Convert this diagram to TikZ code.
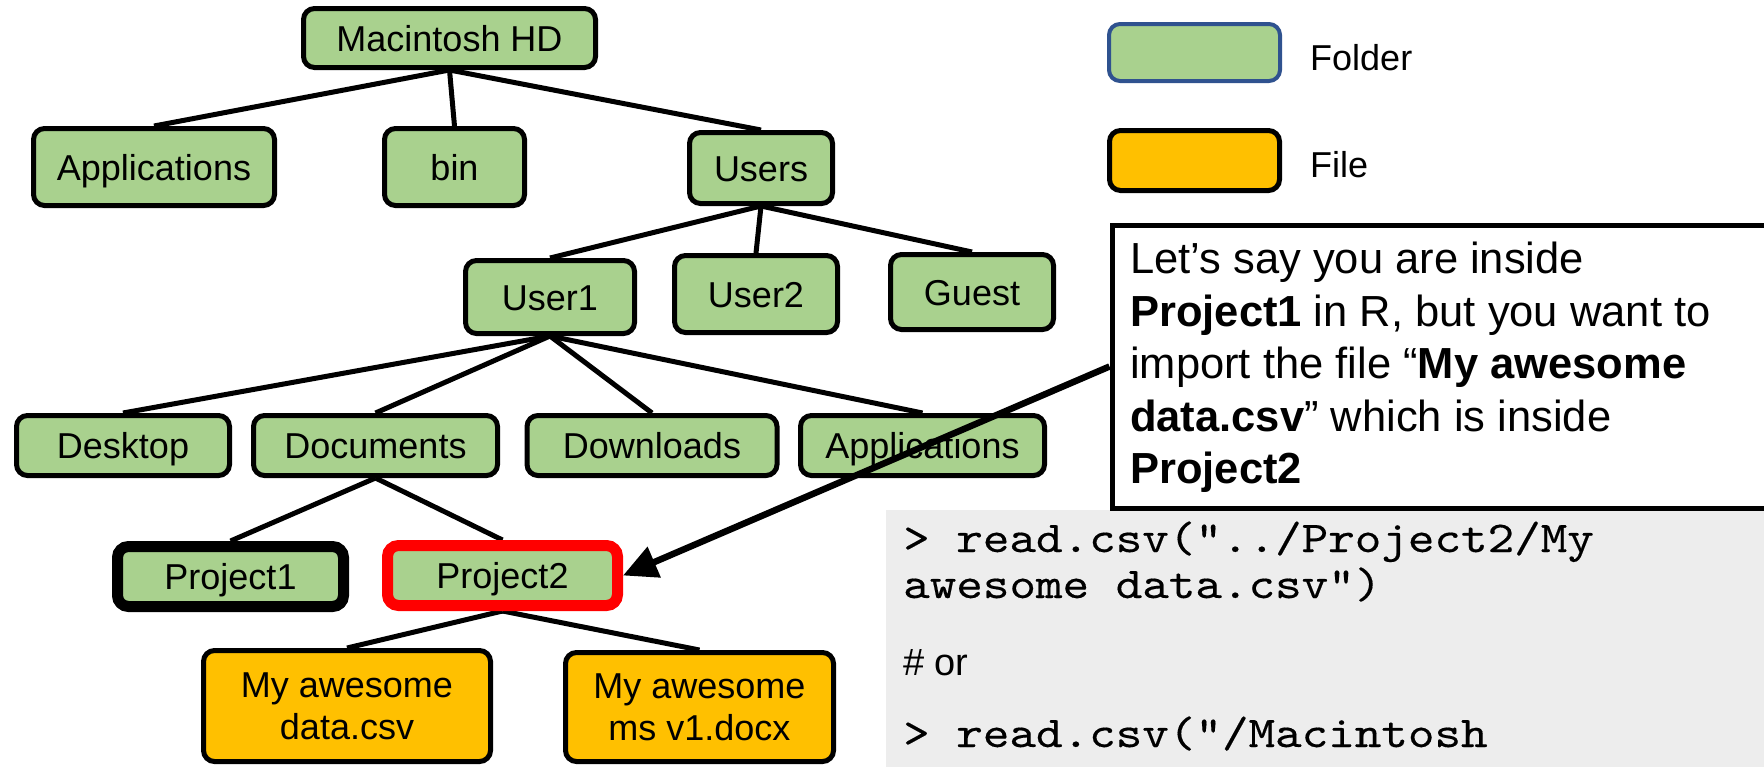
\documentclass[tikz,border=0pt]{standalone}
\usepackage{fontspec}
\setmainfont{Liberation Sans}
\newfontfamily\codefont{lmmono10-regular.otf}[FakeStretch=1.15,FakeBold=0.3]
\usetikzlibrary{arrows.meta,backgrounds}

\definecolor{foldergreen}{HTML}{A9D18E}
\definecolor{fileorange}{HTML}{FFC000}
\definecolor{keyblue}{HTML}{2F528F}
\definecolor{codegray}{HTML}{EDEDED}
\definecolor{hotred}{HTML}{FF0000}

\newcommand\treefont{\fontsize{36}{42}\selectfont}
\newcommand\notefont{\fontsize{43.5}{52.5}\selectfont}
\newcommand\codesize{\fontsize{44}{46}\selectfont\codefont}

\begin{document}
\begin{tikzpicture}[x=1pt,y=-1pt,
  box/.style={draw, line width=5pt, rounded corners=11pt, inner sep=0pt, font=\treefont},
  folder/.style={box, fill=foldergreen, text height=26pt, text depth=0pt},
  file/.style={box, fill=fileorange, align=center},
  link/.style={line width=5pt},
  codeline/.style={anchor=base west, inner sep=0pt, font=\codesize},
  keylabel/.style={anchor=base west, inner sep=0pt, font=\treefont}]

\useasboundingbox (0,0) rectangle (1764,766);
\clip (0,0) rectangle (1764,766);

% directory tree
\node[folder, minimum width=292pt, minimum height=59pt] (mac) at (449.5,38) {Macintosh HD};
\node[folder, minimum width=241pt, minimum height=77pt] (apps) at (154,167) {Applications};
\node[folder, minimum width=140pt, minimum height=77pt] (bin) at (454.5,167) {bin};
\node[folder, minimum width=143pt, minimum height=71pt] (users) at (761,168) {Users};

\node[folder, minimum width=169pt, minimum height=73pt] (user1) at (550,297) {User1};
\node[folder, minimum width=163pt, minimum height=77pt] (user2) at (756,294) {User2};
\node[folder, minimum width=163pt, minimum height=75pt] (guest) at (972,292) {Guest};

\node[folder, minimum width=213pt, minimum height=60pt] (desktop) at (123,445.5) {Desktop};
\node[folder, minimum width=244pt, minimum height=60pt] (documents) at (375.5,445.5) {Documents};
\node[folder, minimum width=250pt, minimum height=60pt] (downloads) at (652,445.5) {Downloads};
\node[folder, minimum width=244pt, minimum height=60pt] (userapps) at (922.5,445.5) {Applications};

\node[folder, line width=11pt, minimum width=226pt, minimum height=60pt] (project1) at (230.5,576.5) {Project1};
\node[folder, draw=hotred, line width=11pt, minimum width=230pt, minimum height=60pt] (project2) at (502.5,575.5) {Project2};

\node[file, minimum width=287pt, minimum height=111pt] (datafile) at (347,706) {My awesome\\data.csv};
\node[file, minimum width=268pt, minimum height=109pt] (docfile) at (699.5,707) {My awesome\\ms v1.docx};

\begin{scope}[on background layer]
  \draw[link] (mac.south) -- (apps.north);
  \draw[link] (mac.south) -- (bin.north);
  \draw[link] (mac.south) -- (users.north);
  \draw[link] (users.south) -- (user1.north);
  \draw[link] (users.south) -- (user2.north);
  \draw[link] (users.south) -- (guest.north);
  \draw[link] (user1.south) -- (desktop.north);
  \draw[link] (user1.south) -- (documents.north);
  \draw[link] (user1.south) -- (downloads.north);
  \draw[link] (user1.south) -- (userapps.north);
  \draw[link] (documents.south) -- (project1.north);
  \draw[link] (documents.south) -- (project2.north);
  \draw[link] (project2.south) -- (datafile.north);
  \draw[link] (project2.south) -- (docfile.north);
\end{scope}

% legend
\node[box, draw=keyblue, line width=4pt, fill=foldergreen, minimum width=171pt, minimum height=57pt] (keyfolder) at (1194.5,52.5) {};
\node[keylabel] (keyfoldertext) at (1310,70) {Folder};
\node[box, fill=fileorange, minimum width=170pt, minimum height=60pt] (keyfile) at (1194.5,160.5) {};
\node[keylabel] (keyfiletext) at (1310,177) {File};

% R code panel
\node[fill=codegray, anchor=north west, inner sep=0pt, minimum width=900pt, minimum height=300pt] (code) at (886,510) {};
\node[codeline] (code1) at (903,552) {> read.csv(“../Project2/My};
\node[codeline] (code2) at (903,598) {awesome data.csv”)};
\node[anchor=base west, inner sep=0pt, font=\fontsize{38}{44}\selectfont] (codeor) at (903,675) {\# or};
\node[codeline] (code3) at (903,747) {> read.csv(“/Macintosh};

% explanation box
\node[draw, fill=white, line width=5pt, anchor=north west, inner sep=0pt, minimum width=700pt, minimum height=283pt] (note) at (1109.5,222.5) {};
\node[anchor=north west, inner sep=0pt, align=left, font=\notefont] (notetext) at (1130,242)
  {Let’s say you are inside\\
   \textbf{Project1} in R, but you want to\\
   import the file “\textbf{My awesome}\\
   \textbf{data.csv}” which is inside\\
   \textbf{Project2}};

\draw[line width=6.5pt, -{Triangle[length=34pt,width=32pt]}] (note.west) -- (project2.east);
\end{tikzpicture}
\end{document}
